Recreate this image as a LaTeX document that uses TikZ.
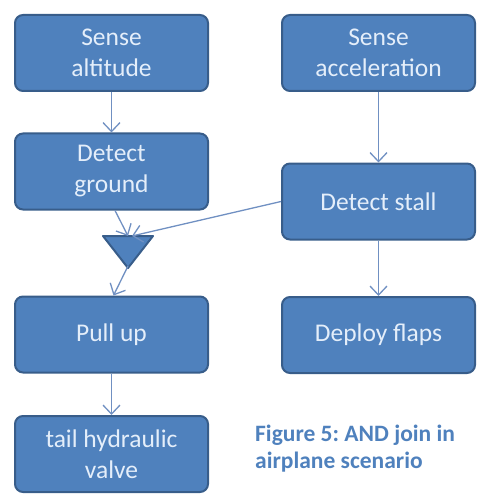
\documentclass[tikz,border=0pt]{standalone}
\usepackage{fontspec}
\setmainfont{Carlito}
\frenchspacing
\usetikzlibrary{arrows.meta}
\definecolor{boxfill}{RGB}{79,129,189}
\definecolor{boxline}{RGB}{56,93,138}
\definecolor{boxtext}{RGB}{228,238,250}
\definecolor{linkcol}{RGB}{112,144,194}
\definecolor{capcol}{RGB}{79,129,189}
\tikzset{
  stepbox/.style={draw=boxline, line width=2pt, fill=boxfill, rounded corners=8pt,
    minimum width=193pt, minimum height=76pt, inner sep=2pt, align=center,
    text=boxtext, font=\fontsize{25.5}{31}\selectfont},
  link/.style={draw=linkcol, line width=1.3pt, -{Straight Barb[length=9pt,width=17pt,line width=1.3pt]}},
  gate/.style={draw=boxline, line width=2pt, fill=boxfill, line join=round},
  caption/.style={text=capcol, font=\fontsize{23.5}{27}\selectfont\bfseries, align=left, anchor=north west, inner sep=0pt}
}
\begin{document}
\begin{tikzpicture}[x=1pt,y=-1pt]
\useasboundingbox (0,0) rectangle (483,497);
\node[stepbox] (sa)   at (111.5,53)    {Sense\\altitude};
\node[stepbox] (sacc) at (378.5,53)    {Sense\\acceleration};
\node[stepbox] (dg)   at (111.5,171.5) {Detect\\ground};
\node[stepbox] (ds)   at (378.5,201.5) {Detect stall};
\node[stepbox] (pu)   at (111.5,334.5) {Pull up};
\node[stepbox] (df)   at (378.5,335)   {Deploy flaps};
\node[stepbox] (thv)  at (111.5,454)   {tail hydraulic\\valve};
\coordinate (tl) at (103,236);
\coordinate (tr) at (153,236);
\coordinate (tip) at (128,268);
\coordinate (ttop) at (128,236);
\coordinate (ttop2) at (132,236);
\draw[gate] (tl) -- (tr) -- (tip) -- cycle;
\path[link] (sa.south) -- (dg.north);
\path[link] (sacc.south) -- (ds.north);
\path[link] ([xshift=3.5pt]dg.south) -- (ttop);
\path[link] (ds.west) -- (ttop2);
\path[link] ([yshift=2pt]tip) -- ([xshift=2pt]pu.north);
\path[link] (ds.south) -- (df.north);
\path[link] (pu.south) -- (thv.north);
\node[caption] (cap) at (255,425) {Figure 5: AND join in\\airplane scenario};
\end{tikzpicture}
\end{document}
